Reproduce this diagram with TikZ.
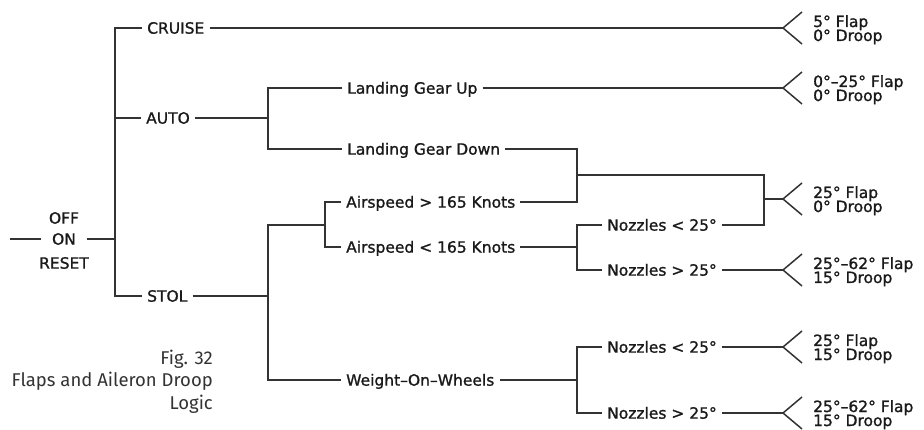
\documentclass[tikz,border=0pt]{standalone}
\usepackage{fontspec}
\newfontfamily\cad[FakeBold=1.2]{DejaVu Sans}
\newfontfamily\capfont{Fira Sans}
\definecolor{wire}{HTML}{333333}
\definecolor{ink}{HTML}{1A1A1A}
\definecolor{captxt}{HTML}{333333}

\tikzset{
  lbl/.style={font=\cad\fontsize{15.5}{18}\selectfont, text=ink, anchor=west,
    inner xsep=5pt, inner ysep=0pt, text height=11.3pt, text depth=0pt},
  swlbl/.style={font=\cad\fontsize{15.5}{18}\selectfont, text=ink,
    inner ysep=0pt, text height=11.3pt, text depth=0pt},
  outlbl/.style={font=\cad\fontsize{15.5}{15}\selectfont, text=ink,
    anchor=base west, inner sep=0pt},
  caplbl/.style={font=\capfont\fontsize{18.5}{22}\selectfont, text=captxt,
    anchor=base east, inner sep=0pt},
  wires/.style={draw=wire, line width=1.5pt, line join=miter},
  forkmark/.pic={\draw[wires] (19,-16) -- (0,0) -- (19,16);}
}

\begin{document}
\begin{tikzpicture}[x=1pt, y=-1pt]
\useasboundingbox[fill=white] (0,0) rectangle (924,430);

% selector switch
\coordinate (in) at (10,239);
\node[swlbl, inner xsep=10.5pt] (sw) at (64,239) {ON};
\node[swlbl] (swoff) at (64,218) {OFF};
\node[swlbl] (swreset) at (64,263) {RESET};

% junctions of the logic tree
\coordinate (b0) at (115,239);
\coordinate (b1) at (268,118);
\coordinate (b2) at (268,296);
\coordinate (b3) at (325,225);
\coordinate (b4) at (577,175);
\coordinate (b5) at (577,247);
\coordinate (b6) at (577,380);
\coordinate (b7) at (764,199);

% output forks
\coordinate (f1) at (783,28);
\coordinate (f2) at (783,88);
\coordinate (f3) at (783,199);
\coordinate (f4) at (783,270);
\coordinate (f5) at (783,347);
\coordinate (f6) at (783,413);

% mode labels
\node[lbl] (cruise) at (142,28) {CRUISE};
\node[lbl] (auto) at (141,118) {AUTO};
\node[lbl] (stol) at (142,296) {STOL};

% conditions
\node[lbl] (gup) at (342,88) {Landing Gear Up};
\node[lbl] (gdn) at (342,149) {Landing Gear Down};
\node[lbl] (asg) at (341,202) {Airspeed > 165 Knots};
\node[lbl] (asl) at (341,247) {Airspeed < 165 Knots};
\node[lbl] (wow) at (341,380) {Weight–On–Wheels};
\node[lbl] (n1) at (602,225) {Nozzles < 25°};
\node[lbl] (n2) at (602,270) {Nozzles > 25°};
\node[lbl] (n3) at (602,347) {Nozzles < 25°};
\node[lbl] (n4) at (602,413) {Nozzles > 25°};

% wiring
\draw[wires] (in) -- (sw.west);
\draw[wires] (sw.east) -- (b0);
\draw[wires] (cruise.west) -| (b0) |- (stol.west);
\draw[wires] (auto.west) -- (auto.west -| b0);
\draw[wires] (cruise.east) -- (f1);

\draw[wires] (auto.east) -- (b1);
\draw[wires] (gup.west) -| (b1) |- (gdn.west);
\draw[wires] (gup.east) -- (f2);

\draw[wires] (stol.east) -- (b2);
\draw[wires] (b3) -| (b2) |- (wow.west);
\draw[wires] (asg.west) -| (b3) |- (asl.west);

\draw[wires] (gdn.east) -| (b4) |- (asg.east);
\draw[wires] (b4) -| (b7) |- (n1.east);
\draw[wires] (b7) -- (f3);

\draw[wires] (asl.east) -- (b5);
\draw[wires] (n1.west) -| (b5) |- (n2.west);
\draw[wires] (n2.east) -- (f4);

\draw[wires] (wow.east) -- (b6);
\draw[wires] (n3.west) -| (b6) |- (n4.west);
\draw[wires] (n3.east) -- (f5);
\draw[wires] (n4.east) -- (f6);

\foreach \f in {f1,f2,f3,f4,f5,f6} \pic at (\f) {forkmark};

% flap / droop settings
\node[outlbl] (o1a) at (813,27) {5° Flap};
\node[outlbl] (o1b) at (813,41) {0° Droop};
\node[outlbl] (o2a) at (813,87) {0°–25° Flap};
\node[outlbl] (o2b) at (813,101) {0° Droop};
\node[outlbl] (o3a) at (813,198) {25° Flap};
\node[outlbl] (o3b) at (813,212) {0° Droop};
\node[outlbl] (o4a) at (813,269) {25°–62° Flap};
\node[outlbl] (o4b) at (813,283) {15° Droop};
\node[outlbl] (o5a) at (813,346) {25° Flap};
\node[outlbl] (o5b) at (813,360) {15° Droop};
\node[outlbl] (o6a) at (813,412) {25°–62° Flap};
\node[outlbl] (o6b) at (813,426) {15° Droop};

% caption
\node[caplbl] (cap1) at (213,365) {Fig. 32};
\node[caplbl] (cap2) at (213,387) {Flaps and Aileron Droop};
\node[caplbl] (cap3) at (213,409) {Logic};
\end{tikzpicture}
\end{document}
